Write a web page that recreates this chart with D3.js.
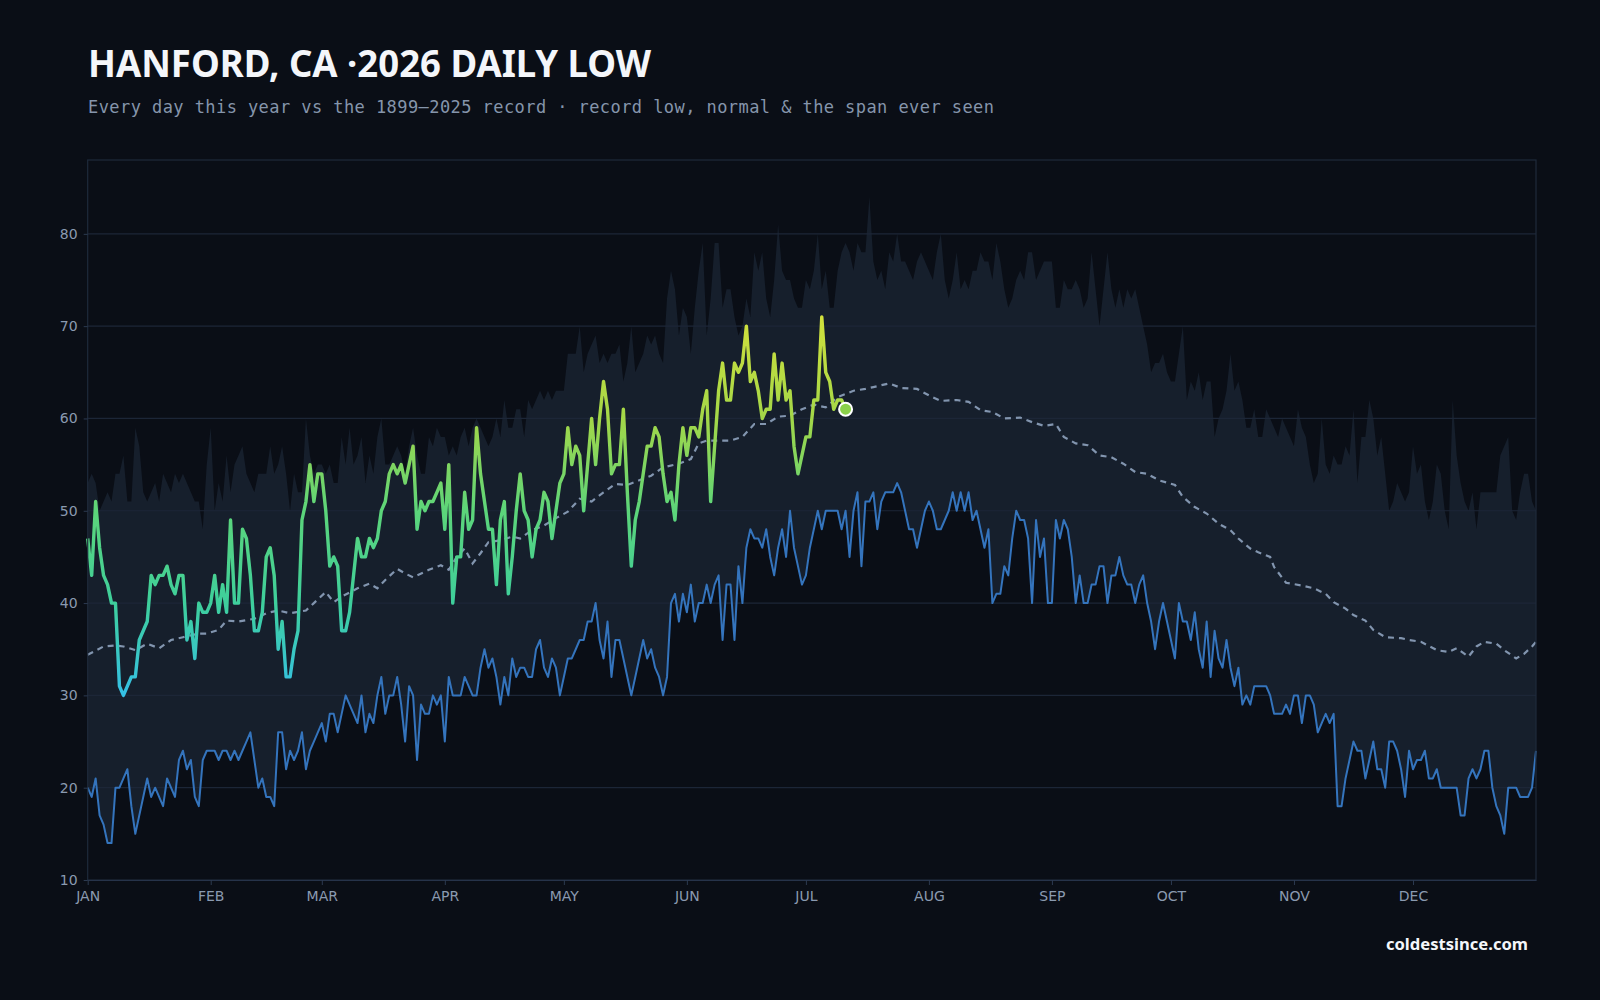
<!DOCTYPE html>
<html><head><meta charset="utf-8">
<script src="https://cdn.jsdelivr.net/npm/d3@7"></script>
<style>
html,body{margin:0;padding:0;background:#0a0e16;}
svg{display:block;}
</style></head>
<body><svg id="c" width="1600" height="1000"></svg>
<script>
const monthLabels = ["JAN","FEB","MAR","APR","MAY","JUN","JUL","AUG","SEP","OCT","NOV","DEC"];
const monthStartDay = [0,31,59,90,120,151,181,212,243,273,304,334];
const yTicks = [10,20,30,40,50,60,70,80];

const recordHigh = [
53,54,53,50,51,52,51,54,54,56, 51,51,59,57,52,51,52,53,51,54,
53,52,54,53,54,53,52,51,51,48, 55,59,50,53,51,56,52,55,56,57,
54,53,52,54,54,54,57,54,55,57, 54,50,54,52,52,60,56,54,55,55,
54,55,53,53,58,55,59,55,56,58, 53,56,54,58,60,55,55,56,57,56,
54,57,59,56,54,54,58,57,59,58, 58,56,57,56,58,59,57,59,60,59,
58,57,58,60,58,62,59,59,61,61, 58,62,61,62,63,62,63,62,63,63,
63,67,67,67,70,65,67,68,69,66, 67,66,67,67,68,64,66,70,65,66,
67,69,68,69,67,66,73,76,74,69, 72,71,67,72,76,79,69,73,79,79,
72,74,74,71,69,70,73,71,78,76, 78,73,71,75,81,76,75,75,73,72,
72,75,74,76,80,74,76,72,72,76, 78,79,78,76,79,78,78,84,77,75,
76,74,78,77,80,77,77,76,75,77, 78,77,76,75,78,80,75,73,75,78,
74,75,74,76,76,78,77,77,75,79, 77,74,72,73,75,76,75,78,78,75,
76,77,77,77,72,72,75,74,74,75, 74,72,73,78,74,70,74,78,74,72,
74,72,74,73,74,72,70,68,65,66, 66,67,65,64,64,67,70,62,64,63,
65,62,64,64,58,60,61,63,67,63, 64,62,59,59,61,58,58,61,60,59,
58,60,59,58,57,61,59,58,55,53, 54,60,55,54,56,55,55,57,56,61,
53,58,58,62,60,56,58,54,50,51, 53,52,51,52,57,54,55,51,49,51,
55,54,50,48,62,56,53,51,50,52, 48,52,52,52,52,52,56,57,58,50,
49,52,54,54,51,50];

const recordLow = [
20,19,21,17,16,14,14,20,20,21, 22,18,15,17,19,21,19,20,19,18,
21,20,19,23,24,22,23,19,18,23, 24,24,24,23,24,24,23,24,23,24,
25,26,23,20,21,19,19,18,26,26, 22,24,23,24,26,22,24,25,26,27,
25,28,28,26,28,30,29,28,27,30, 26,28,27,30,32,28,30,30,32,29,
25,31,30,23,29,28,28,30,29,30, 25,32,30,30,30,32,31,30,30,33,
35,33,34,32,29,32,30,34,32,33, 33,32,32,35,36,33,32,34,33,30,
32,34,34,35,36,36,38,38,40,36, 34,38,32,36,36,34,32,30,32,34,
36,34,35,33,32,30,32,40,41,38, 41,39,42,38,40,40,42,40,42,43,
36,42,42,36,44,40,46,48,47,47, 46,48,45,43,46,48,45,50,46,44,
42,43,46,48,50,48,50,50,50,50, 48,50,45,50,52,44,51,51,52,48,
51,52,52,52,53,52,50,48,48,46, 48,50,51,50,48,48,49,50,52,50,
52,50,52,49,50,48,46,48,40,41, 41,44,43,47,50,49,49,47,40,49,
45,47,40,40,49,47,49,48,45,40, 43,40,40,42,42,44,44,40,43,43,
45,43,42,42,40,42,43,40,38,35, 38,40,38,36,34,40,38,38,36,39,
35,33,38,32,37,34,33,36,33,31, 33,29,30,29,31,31,31,31,30,28,
28,28,29,28,30,30,27,30,30,29, 26,27,28,27,28,18,18,21,23,25,
24,24,21,23,25,22,22,20,25,25, 24,22,19,24,22,23,23,24,21,21,
22,20,20,20,20,20,17,17,21,22, 21,22,24,24,20,18,17,15,20,20,
20,19,19,19,20,24];

const normalDay = [0,4,7,9,12,15,18,21,24,28,30,33,35,38,42,45,48,51,55,57,60,62,64,68,71,73,75,78,80,82,86,89,91,93,95,97,99,101,104,107,109,112,115,118,121,124,127,130,133,136,139,142,145,149,152,154,156,159,162,165,168,171,174,177,180,183,186,189,193,196,198,202,205,209,212,215,219,222,225,228,231,235,238,241,244,246,249,252,255,258,261,264,267,270,274,276,279,282,285,288,290,293,295,298,299,302,306,309,312,314,317,319,322,324,327,331,333,336,340,343,345,348,350,352,355,357,360,362,364,365];
const normalTemp = [34.4,35.3,35.4,35.3,34.9,35.6,35.1,36.0,36.3,36.7,36.7,37.1,38.1,38.0,38.3,38.9,39.2,38.9,39.2,40.0,41.2,40.1,40.7,41.6,42.1,41.6,42.5,43.7,43.2,42.8,43.6,44.1,43.6,45.0,45.9,44.3,45.4,46.6,46.8,47.2,47.0,47.9,48.4,49.2,49.9,51.3,51.0,52.0,52.9,52.8,53.3,53.8,54.7,55.1,55.6,57.3,57.6,57.6,57.6,58.0,59.4,59.4,60.2,60.3,61.0,61.5,61.2,62.3,63.0,63.2,63.4,63.8,63.3,63.2,62.5,61.9,62.0,61.8,60.9,60.7,60.0,60.1,59.6,59.2,59.4,58.0,57.3,57.1,56.0,55.8,55.1,54.2,54.0,53.3,52.8,51.5,50.4,49.7,48.6,47.9,47.0,45.9,45.5,45.0,43.9,42.2,41.9,41.6,41.0,40.1,39.4,38.7,38.1,37.1,36.3,36.2,36.0,35.8,34.9,34.7,35.1,34.2,35.3,35.8,35.6,34.9,34.0,34.5,35.3,35.8];

const daily2026 = [
47,43,51,46,43,42,40,40,31,30, 31,32,32,36,37,38,43,42,43,43,
44,42,41,43,43,36,38,34,40,39, 39,40,43,39,42,39,49,40,40,48,
47,43,37,37,39,45,46,43,35,38, 32,32,35,37,49,51,55,51,54,54,
50,44,45,44,37,37,39,43,47,45, 45,47,46,47,50,51,54,55,54,55,
53,55,57,48,51,50,51,51,52,53, 48,55,40,45,45,52,48,49,59,54,
51,48,48,42,49,51,41,45,50,54, 50,49,45,48,49,52,51,47,50,53,
54,59,55,57,56,50,55,60,55,60, 64,61,54,55,55,61,52,44,49,51,
54,57,57,59,58,54,51,52,49,55, 59,56,59,59,58,61,63,51,57,63,
66,62,62,66,65,66,70,64,65,63, 60,61,61,67,62,66,62,63,57,54,
56,58,58,62,62,71,65,64,61,62, 62,61];

const gradTemps = [30,40,50,60,72];
const gradColors = ["#35c0e6","#3ecf9c","#5cd57a","#a3d748","#d6e23b"];

const W = 1600, H = 1000;
const L = 87.7, R = 1536, T = 160, B = 880;
const x = d3.scaleLinear().domain([0,365]).range([L,R]);
const y = d3.scaleLinear().domain([10,88]).range([B,T]);

const svg = d3.select('#c');
svg.append('rect').attr('width',W).attr('height',H).attr('fill','#0a0e16');

const defs = svg.append('defs');
const grad = defs.append('linearGradient').attr('id','g26')
  .attr('gradientUnits','userSpaceOnUse')
  .attr('x1',0).attr('x2',0).attr('y1',y(gradTemps[0])).attr('y2',y(gradTemps[gradTemps.length-1]));
gradTemps.forEach((t,i)=>{
  grad.append('stop').attr('offset',(t-gradTemps[0])/(gradTemps[gradTemps.length-1]-gradTemps[0])).attr('stop-color',gradColors[i]);
});

const idx = d3.range(recordHigh.length);
svg.append('path').datum(idx)
  .attr('d', d3.area().x(i=>x(i)).y0(i=>y(recordLow[i])).y1(i=>y(recordHigh[i])))
  .attr('fill','#161f2c');

svg.append('g').selectAll('line').data(yTicks.filter(v=>v>10)).join('line')
  .attr('x1',L).attr('x2',R).attr('y1',d=>y(d)).attr('y2',d=>y(d))
  .attr('stroke','#1c2637').attr('stroke-width',1.2);

svg.append('path').datum(idx)
  .attr('d', d3.line().x(i=>x(i)).y(i=>y(recordLow[i])))
  .attr('fill','none').attr('stroke','#3474bd').attr('stroke-width',2).attr('stroke-linejoin','round');

svg.append('path').datum(d3.range(normalDay.length))
  .attr('d', d3.line().x(i=>x(normalDay[i])).y(i=>y(normalTemp[i])))
  .attr('fill','none').attr('stroke','#8295af').attr('stroke-width',2.2).attr('stroke-dasharray','6,5');

svg.append('path').datum(d3.range(daily2026.length))
  .attr('d', d3.line().x(i=>x(i)).y(i=>y(daily2026[i])))
  .attr('fill','none').attr('stroke','url(#g26)').attr('stroke-width',3.4).attr('stroke-linejoin','round');

const last = daily2026.length-1;
svg.append('circle').attr('cx',x(last)).attr('cy',y(daily2026[last])).attr('r',6.5)
  .attr('fill','#8bd14a').attr('stroke','#ffffff').attr('stroke-width',2);

svg.append('rect').attr('x',L).attr('y',T).attr('width',R-L).attr('height',B-T)
  .attr('fill','none').attr('stroke','#1e2a3b').attr('stroke-width',1.2);

const ax = svg.append('g').attr('transform',`translate(0,${B})`)
  .call(d3.axisBottom(x).tickValues(monthStartDay).tickFormat((d,i)=>monthLabels[i]).tickSize(5).tickSizeOuter(0).tickPadding(6));
ax.select('.domain').attr('stroke','#26334a');
ax.selectAll('line').attr('stroke','#2c3a50');
ax.selectAll('text').attr('fill','#8a9ab0').style('font-family','DejaVu Sans, sans-serif').style('font-size','14px');

const ay = svg.append('g').attr('transform',`translate(${L},0)`)
  .call(d3.axisLeft(y).tickValues(yTicks).tickFormat(d3.format('d')).tickSize(4).tickSizeOuter(0).tickPadding(6));
ay.select('.domain').remove();
ay.selectAll('line').attr('stroke','#2c3a50');
ay.selectAll('text').attr('fill','#8a9ab0').style('font-family','DejaVu Sans, sans-serif').style('font-size','14px');

svg.append('text').attr('x',88).attr('y',77).text('HANFORD, CA ·2026 DAILY LOW')
  .attr('fill','#f4f6fa').style('font-family','Noto Sans, sans-serif').style('font-weight',700).style('font-size','37px')
  .attr('textLength',563).attr('lengthAdjust','spacingAndGlyphs');

svg.append('text').attr('x',88).attr('y',112.5).text('Every day this year vs the 1899–2025 record · record low, normal & the span ever seen')
  .attr('fill','#8595ab').style('font-family','DejaVu Sans Mono, monospace').style('font-size','17px')
  .attr('textLength',906).attr('lengthAdjust','spacing');

svg.append('text').attr('x',1528).attr('y',950).attr('text-anchor','end').text('coldestsince.com')
  .attr('fill','#f4f6fa').style('font-family','Noto Sans, sans-serif').style('font-weight',700).style('font-size','16.6px');
</script>
</body></html>
